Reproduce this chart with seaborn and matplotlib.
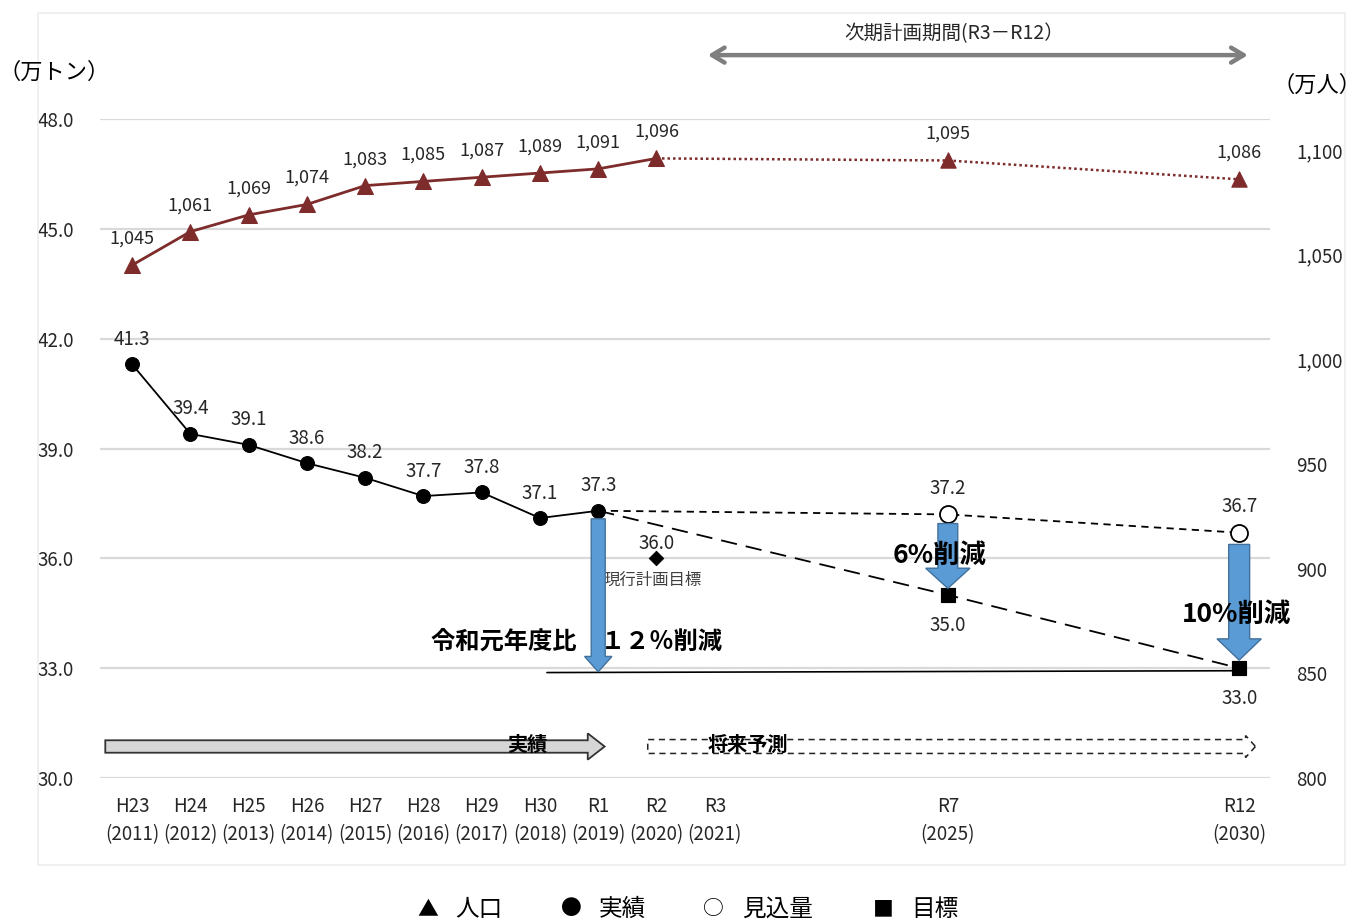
import matplotlib
matplotlib.use("Agg")
import matplotlib.pyplot as plt
from matplotlib.patches import FancyArrow, Rectangle
import seaborn as sns

# ---- data ----
actual_years = [2011, 2012, 2013, 2014, 2015, 2016, 2017, 2018, 2019]
actual_waste = [41.3, 39.4, 39.1, 38.6, 38.2, 37.7, 37.8, 37.1, 37.3]

pop_years_hist = [2011, 2012, 2013, 2014, 2015, 2016, 2017, 2018, 2019, 2020]
pop_hist = [1045, 1061, 1069, 1074, 1083, 1085, 1087, 1089, 1091, 1096]
pop_years_future = [2020, 2025, 2030]
pop_future = [1096, 1095, 1086]

outlook_years = [2019, 2025, 2030]
outlook_waste = [37.3, 37.2, 36.7]

target_years = [2019, 2025, 2030]
target_waste = [37.3, 35.0, 33.0]

plan_year = [2020]
plan_target = [36.0]

tick_years = [2011, 2012, 2013, 2014, 2015, 2016, 2017, 2018, 2019, 2020, 2021, 2025, 2030]
tick_era = ["H23", "H24", "H25", "H26", "H27", "H28", "H29", "H30", "R1", "R2", "R3", "R7", "R12"]

left_ticks = [30.0, 33.0, 36.0, 39.0, 42.0, 45.0, 48.0]
right_ticks = [800, 850, 900, 950, 1000, 1050, 1100]

legend_symbols = ["▲", "●", "○", "■"]
legend_labels = ["人口", "実績", "見込量", "目標"]

# ---- style ----
sns.set_theme(style="white")
plt.rcParams["font.family"] = ["Noto Sans CJK JP", "DejaVu Sans"]

POP_RED = "#7E2B2B"
ARROW_BLUE = "#5B9BD5"
ARROW_EDGE = "#41719C"
GRID = "#D9D9D9"
TXT = "#262626"

fig = plt.figure(figsize=(13.63, 9.22), dpi=100)
ax = fig.add_axes([0.0734, 0.1562, 0.8584, 0.7147])
ax2 = ax.twinx()

# light outer frame
fig.patches.append(Rectangle((0.0279, 0.0618), 0.959, 0.924, transform=fig.transFigure,
                             fill=False, edgecolor="#EEEEEE", lw=1.2, zorder=0))

ax.set_xlim(2010.45, 2030.53)
ax.set_ylim(30.0, 48.0)
ax2.set_ylim(800, 1114.8)

for a in (ax, ax2):
    for s in a.spines.values():
        s.set_visible(False)
    a.tick_params(length=0)

ax.set_yticks(left_ticks)
ax.set_yticklabels([f"{v:.1f}" for v in left_ticks], fontsize=13.5, color=TXT)
ax.tick_params(axis="y", pad=19)
ax2.set_yticks(right_ticks)
ax2.set_yticklabels([f"{v:,}" for v in right_ticks], fontsize=13.5, color=TXT)
ax2.tick_params(axis="y", pad=19)
ax.set_xticks(tick_years)
ax.set_xticklabels([f"{e}\n({y})" for e, y in zip(tick_era, tick_years)],
                   fontsize=13.5, color=TXT, linespacing=1.45)
ax.tick_params(axis="x", pad=13)

for v in left_ticks:
    ax.axhline(v, color=GRID, lw=1.6, zorder=0)

# ---- population (right axis) ----
sns.lineplot(x=pop_years_hist, y=pop_hist, ax=ax2, color=POP_RED, lw=2,
             marker="^", markersize=11, markeredgecolor=POP_RED, markerfacecolor=POP_RED)
sns.lineplot(x=pop_years_future, y=pop_future, ax=ax2, color=POP_RED, lw=1.8,
             linestyle=(0, (1, 1.2)))
sns.scatterplot(x=pop_years_future[1:], y=pop_future[1:], ax=ax2, color=POP_RED,
                marker="^", s=120, edgecolor=POP_RED, zorder=5)
for x, v in zip(pop_years_hist + pop_years_future[1:], pop_hist + pop_future[1:]):
    ax2.annotate(f"{v:,}", (x, v), xytext=(0, 19), textcoords="offset points",
                 ha="center", va="center", fontsize=13, color=TXT)

# ---- waste: actual ----
sns.lineplot(x=actual_years, y=actual_waste, ax=ax, color="black", lw=1.3,
             marker="o", markersize=10, markeredgecolor="black", markerfacecolor="black", zorder=4)
for x, v in zip(actual_years, actual_waste):
    ax.annotate(f"{v:.1f}", (x, v), xytext=(0, 18), textcoords="offset points",
                ha="center", va="center", fontsize=13.5, color=TXT)

# ---- waste: outlook ----
sns.lineplot(x=outlook_years, y=outlook_waste, ax=ax, color="black", lw=1.3,
             linestyle=(0, (4, 3)), zorder=3)
sns.scatterplot(x=outlook_years[1:], y=outlook_waste[1:], ax=ax, s=150,
                facecolor="white", edgecolor="black", linewidth=1.3, zorder=5)
for x, v in zip(outlook_years[1:], outlook_waste[1:]):
    ax.annotate(f"{v:.1f}", (x, v), xytext=(0, 19), textcoords="offset points",
                ha="center", va="center", fontsize=13.5, color=TXT)

# ---- waste: target ----
sns.lineplot(x=target_years, y=target_waste, ax=ax, color="black", lw=1.3,
             linestyle=(0, (9, 5)), zorder=3)
sns.scatterplot(x=target_years[1:], y=target_waste[1:], ax=ax, marker="s", s=110,
                color="black", edgecolor="black", zorder=6)
for x, v in zip(target_years[1:], target_waste[1:]):
    ax.annotate(f"{v:.1f}", (x, v), xytext=(0, -22), textcoords="offset points",
                ha="center", va="center", fontsize=13.5, color=TXT)

# ---- current plan target ----
sns.scatterplot(x=plan_year, y=plan_target, ax=ax, marker="D", s=55, color="black",
                edgecolor="black", zorder=5)
ax.annotate(f"{plan_target[0]:.1f}", (plan_year[0], plan_target[0]), xytext=(0, 11),
            textcoords="offset points", ha="center", va="center", fontsize=13.5, color=TXT)
ax.annotate("現行計画目標", (plan_year[0], plan_target[0]), xytext=(-3, -16),
            textcoords="offset points", ha="center", va="center", fontsize=11.8, color="#404040")

# reference line at the 2030 target level
ax.plot([2018.12, 2030.0], [32.88, 32.93], color="black", lw=1.2, zorder=3)

# ---- reduction arrows ----
def down_arrow(x, y0, y1, w, hw, hl):
    ax.add_patch(FancyArrow(x, y0, 0, y1 - y0, width=w, head_width=hw, head_length=hl,
                            length_includes_head=True, facecolor=ARROW_BLUE,
                            edgecolor=ARROW_EDGE, lw=1, zorder=7))

down_arrow(2019.0, 37.08, 32.90, 0.24, 0.47, 0.42)
down_arrow(2025.0, 36.95, 35.18, 0.34, 0.76, 0.55)
down_arrow(2030.0, 36.38, 33.22, 0.36, 0.76, 0.58)

ax.text(2018.62, 33.72, "令和元年度比　１２％削減", ha="center", va="center",
        fontsize=17.5, fontweight="bold", color="black", zorder=8)
ax.text(2024.86, 36.07, "6%削減", ha="center", va="center",
        fontsize=19, fontweight="bold", color="black", zorder=8)
ax.text(2029.95, 34.48, "10%削減", ha="center", va="center",
        fontsize=19, fontweight="bold", color="black", zorder=8)

# ---- period arrows along the bottom ----
ax.add_patch(FancyArrow(2010.54, 30.86, 8.57, 0, width=0.34, head_width=0.72,
                        head_length=0.29, length_includes_head=True,
                        facecolor="#D6D6D6", edgecolor="#333333", lw=1.3, zorder=4))
ax.text(2017.78, 30.92, "実績", ha="center", va="center", fontsize=14.5,
        fontweight="bold", color="black", zorder=5)
ax.add_patch(FancyArrow(2019.85, 30.86, 10.43, 0, width=0.38, head_width=0.6,
                        head_length=0.17, length_includes_head=True,
                        facecolor="white", edgecolor="#222222", lw=1.1,
                        linestyle=(0, (4, 3)), zorder=4))
ax.text(2021.57, 30.92, "将来予測", ha="center", va="center", fontsize=14.5,
        fontweight="bold", color="black", zorder=5)

# ---- planning period header ----
ax.annotate("", xy=(2030.15, 1.097), xytext=(2020.88, 1.097),
            xycoords=("data", "axes fraction"), textcoords=("data", "axes fraction"),
            arrowprops=dict(arrowstyle="<->,head_length=0.75,head_width=0.45",
                            color="#7F7F7F", lw=3.2, shrinkA=0, shrinkB=0),
            annotation_clip=False)
ax.text(2025.1, 1.129, "次期計画期間(R3－R12）", transform=ax.get_xaxis_transform(),
        ha="center", va="center", fontsize=14, color=TXT)

# ---- axis unit labels ----
fig.text(0.040, 0.922, "（万トン）", ha="center", va="center", fontsize=16, color="black")
fig.text(0.966, 0.907, "（万人）", ha="center", va="center", fontsize=16, color="black")

# ---- legend row ----
symbol_x = [428, 571, 713, 883]
label_x = [479, 622, 778, 935]
for sym, lab, sx, lx in zip(legend_symbols, legend_labels, symbol_x, label_x):
    fig.text(sx / 1363, 0.014, sym, ha="center", va="center", fontsize=15, color="black")
    fig.text(lx / 1363, 0.014, lab, ha="center", va="center", fontsize=17, color="black")

fig.savefig("out.png", dpi=100)
